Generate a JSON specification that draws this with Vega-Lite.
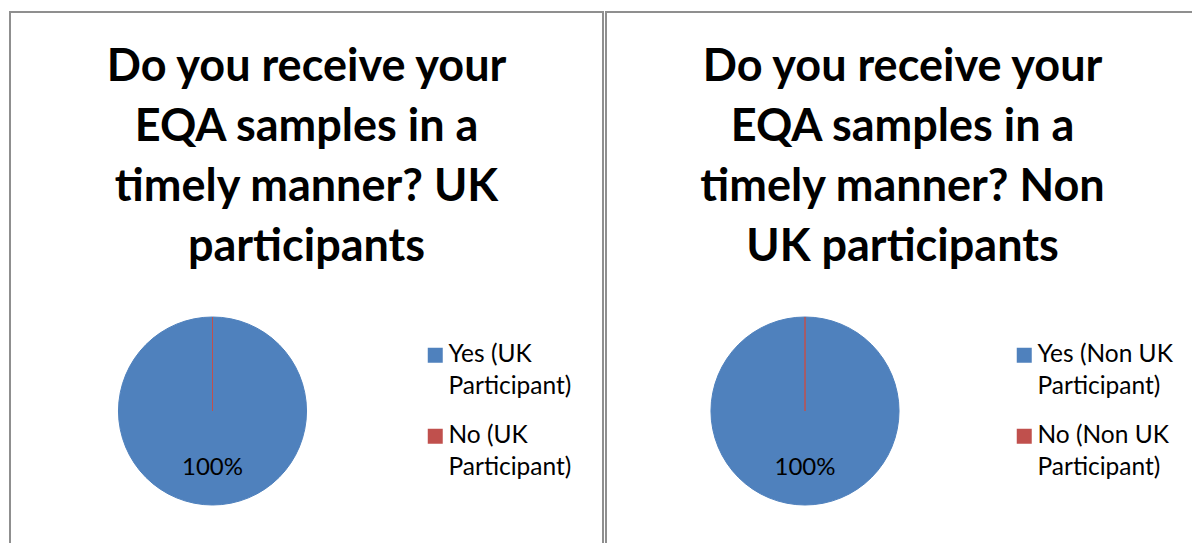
{
  "$schema": "https://vega.github.io/schema/vega-lite/v6.json",
  "background": "white",
  "padding": {"left": 9, "top": 11, "right": 0, "bottom": 0},
  "spacing": 1,
  "datasets": {
    "uk": [
      {"label": "Yes (UK Participant)", "share": 1, "order": 1},
      {"label": "No (UK Participant)", "share": 0, "order": 2}
    ],
    "nonuk": [
      {"label": "Yes (Non UK Participant)", "share": 1, "order": 1},
      {"label": "No (Non UK Participant)", "share": 0, "order": 2}
    ]
  },
  "hconcat": [
    {
      "width": 593,
      "height": 534,
      "view": {"stroke": "#8f8f8f", "strokeWidth": 2, "fill": "white"},
      "title": {
        "text": ["Do you receive your", "EQA samples in a", "timely manner? UK", "participants"],
        "fontSize": 45, "fontWeight": "bold", "font": "Lato", "lineHeight": 60,
        "anchor": "middle", "baseline": "top", "offset": -224, "dy": 34, "color": "black"
      },
      "data": {"name": "uk"},
      "layer": [
        {
          "mark": {"type": "arc", "outerRadius": 94, "xOffset": -94, "yOffset": 132, "strokeWidth": 1},
          "encoding": {
            "theta": {"field": "share", "type": "quantitative", "stack": true},
            "order": {"field": "order", "type": "quantitative"},
            "color": {
              "field": "label", "type": "nominal",
              "scale": {"domain": ["Yes (UK Participant)", "No (UK Participant)"], "range": ["#4F81BD", "#C0504D"]},
              "legend": {"orient": "none", "legendX": 413, "legendY": 331,
                "labelExpr": "[replace(datum.label, ' Participant)', ''), 'Participant)']"}
            },
            "stroke": {
              "field": "label", "type": "nominal",
              "scale": {"domain": ["Yes (UK Participant)", "No (UK Participant)"], "range": ["#4F81BD", "#C0504D"]},
              "legend": null
            }
          }
        },
        {
          "transform": [{"filter": "datum.share > 0"}],
          "mark": {"type": "text", "radius": 57, "fontSize": 24, "font": "Lato", "color": "black", "xOffset": -94, "yOffset": 132, "baseline": "middle", "align": "center"},
          "encoding": {
            "theta": {"field": "share", "type": "quantitative", "stack": true},
            "text": {"field": "share", "type": "quantitative", "format": ".0%"}
          }
        }
      ]
    },
    {
      "width": 593,
      "height": 534,
      "view": {"stroke": "#8f8f8f", "strokeWidth": 2, "fill": "white"},
      "title": {
        "text": ["Do you receive your", "EQA samples in a", "timely manner? Non", "UK participants"],
        "fontSize": 45, "fontWeight": "bold", "font": "Lato", "lineHeight": 60,
        "anchor": "middle", "baseline": "top", "offset": -224, "dy": 34, "color": "black"
      },
      "data": {"name": "nonuk"},
      "layer": [
        {
          "mark": {"type": "arc", "outerRadius": 94, "xOffset": -97.5, "yOffset": 132, "strokeWidth": 1},
          "encoding": {
            "theta": {"field": "share", "type": "quantitative", "stack": true},
            "order": {"field": "order", "type": "quantitative"},
            "color": {
              "field": "label", "type": "nominal",
              "scale": {"domain": ["Yes (Non UK Participant)", "No (Non UK Participant)"], "range": ["#4F81BD", "#C0504D"]},
              "legend": {"orient": "none", "legendX": 406, "legendY": 331,
                "labelExpr": "[replace(datum.label, ' Participant)', ''), 'Participant)']"}
            },
            "stroke": {
              "field": "label", "type": "nominal",
              "scale": {"domain": ["Yes (Non UK Participant)", "No (Non UK Participant)"], "range": ["#4F81BD", "#C0504D"]},
              "legend": null
            }
          }
        },
        {
          "transform": [{"filter": "datum.share > 0"}],
          "mark": {"type": "text", "radius": 57, "fontSize": 24, "font": "Lato", "color": "black", "xOffset": -97.5, "yOffset": 132, "baseline": "middle", "align": "center"},
          "encoding": {
            "theta": {"field": "share", "type": "quantitative", "stack": true},
            "text": {"field": "share", "type": "quantitative", "format": ".0%"}
          }
        }
      ]
    }
  ],
  "resolve": {"scale": {"color": "independent", "stroke": "independent", "theta": "independent"}},
  "config": {
    "view": {"stroke": "#8f8f8f", "strokeWidth": 2},
    "font": "Lato",
    "legend": {
      "title": null,
      "symbolType": "square",
      "symbolSize": 225,
      "symbolStrokeWidth": 0,
      "labelFontSize": 24.5,
      "labelFont": "Lato",
      "labelColor": "black",
      "labelOffset": 1,
      "labelLimit": 300,
      "labelBaseline": "middle",
      "rowPadding": 24
    },
    "style": {"guide-label": {"lineHeight": 32}}
  }
}
